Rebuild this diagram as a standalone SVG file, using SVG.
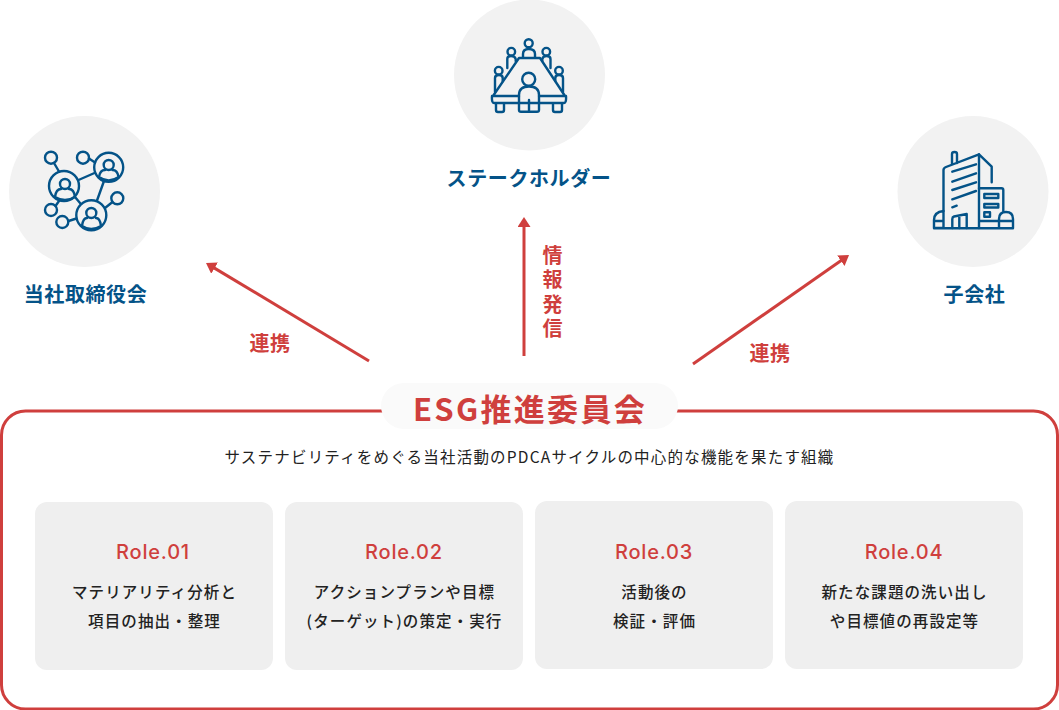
<svg xmlns="http://www.w3.org/2000/svg" width="1059" height="710" viewBox="0 0 1059 710">
<style>
text{font-family:"Noto Sans CJK JP","Noto Sans",sans-serif}
.circ{fill:#f2f2f2}
.ic{fill:none;stroke:#045388;stroke-width:2.4;stroke-linecap:round;stroke-linejoin:round}
.nl{fill:#045388;font-size:20px;font-weight:700;text-anchor:middle;letter-spacing:.6px}
.red{fill:#cf3f3d;font-weight:700}
.ar{stroke:#cf3f3d;stroke-width:3;fill:none}
.card{fill:#efefef}
.role{fill:#cf3f3d;font-family:"Inter","Open Sans",sans-serif;font-size:20px;font-weight:500;text-anchor:middle;letter-spacing:.8px}
.desc{fill:#222;font-size:15.500px;font-weight:500;text-anchor:middle;letter-spacing:1.100px}
</style>
<defs><marker id="ah" markerUnits="userSpaceOnUse" markerWidth="14" markerHeight="14" refX="3" refY="6.500" orient="auto"><path d="M0 0L10 6.500L0 13Z" fill="#cf3f3d"/></marker></defs>
<g id="connectors">
<path class="ar" d="M369 361L212 266.600" marker-end="url(#ah)"/>
<path class="ar" d="M524 356V224" marker-end="url(#ah)"/>
<path class="ar" d="M693 364L843.300 259" marker-end="url(#ah)"/>
</g>
<g id="node-board">
<circle class="circ" cx="84.500" cy="191.500" r="75.500"/>
<g class="ic">
<circle cx="51" cy="157.700" r="6"/><circle cx="83" cy="157.700" r="6"/><circle cx="108.700" cy="167.300" r="14.500"/><circle cx="64" cy="186" r="15"/><circle cx="91.300" cy="215.300" r="15"/><circle cx="117.300" cy="198.300" r="6"/><circle cx="51" cy="210" r="6"/><circle cx="62.300" cy="222" r="6"/>
<path d="M54 163L59 171.500M89 158.500L95 162.500M78.500 180L94.500 173M104 181L97 200.500M75 197L80 203M105 208L112.500 202M68.500 221L76.500 218.500M55.500 206L59 201"/>
<circle cx="108.700" cy="165" r="5"/><path d="M99 177Q100 170 105 170M118.500 177Q117.500 170 112.500 170M99 177Q108.700 184 118.500 177"/>
<circle cx="65" cy="184" r="5"/><path d="M55 197Q56 189 61 189M75 197Q74 189 69 189M55 197Q65 203 75 197"/>
<circle cx="91.300" cy="213" r="5"/><path d="M82 226Q83 218 87 218M101 226Q100 218 96 218M82 226Q91 232 101 226"/>
</g>
<text class="nl" x="85.500" y="302">当社取締役会</text>
</g>
<g id="node-stakeholder">
<circle class="circ" cx="529.500" cy="75" r="75.500"/>
<g class="ic">
<circle cx="528.700" cy="43.300" r="4"/><path d="M523 57V54Q523 49 528.700 49Q535 49 535 54V57"/>
<circle cx="511.300" cy="51.700" r="3.800"/><path d="M507.300 68V59Q507.300 56 511 56Q515 56 515.700 59V61"/>
<circle cx="546.300" cy="51.700" r="3.800"/><path d="M550.500 68V59Q550.500 56 546.500 56Q543 56 542.300 59V61"/>
<circle cx="498.700" cy="70.700" r="3.800"/><path d="M495 91.700V78Q495 75 499 75Q502.700 75 502.700 78V81"/>
<circle cx="559" cy="70.700" r="3.800"/><path d="M563 91.700V78Q563 75 559 75Q555.300 75 555.300 78V81"/>
<path d="M493 96L519 58H540L565 96M492 96H519M539 96H566Q566.500 103 564 103H494Q491.500 103 492 96M496 103V110Q496 112 498 112H502Q504 112 504 110V103M553 103V110Q553 112 555 112H560Q562 112 562 110V103"/>
<circle cx="528.700" cy="79.300" r="6.500"/><path d="M519 110V95Q519 86.500 529 86.500Q539 86.500 539 95V110Q539 111.700 537 111.700H521Q519 111.700 519 110ZM529 100V111"/>
</g>
<text class="nl" x="529" y="186">ステークホルダー</text>
</g>
<g id="node-subsidiary">
<circle class="circ" cx="973" cy="191.500" r="75.500"/>
<g class="ic">
<path d="M943.500 211V170Q943.500 168 946 167L979 154.300L991.700 166.700V182.300M952 164V154Q952 152 954.500 152Q957 152 957 154V163M979 154.300V228"/>
<path d="M952.300 171.700L976 164.300M952.300 181.700L976 173.300M952.300 190L976 182.300M952.300 199.300L976 191M952.300 207.300L956.700 205.700"/>
<path d="M979 188.300H1001.500Q1003.300 188.300 1003.300 190V211M984.300 194H998.300V198H984.300ZM984.300 204H998.300V207.500H984.300ZM984.300 212.300H990V216.700H984.300Z"/>
<path d="M952.300 228V219Q952.300 217 954 216.500L966.700 214V228M959.300 216V228"/>
<path d="M943.500 228V211Q934 212 934 220V228ZM934 221H943.500M934 228.300H1013M999 228V219Q999 212 1006 212Q1013 212 1013 219V228M999 221H1013M980 221H999"/>
</g>
<text class="nl" x="974.500" y="302">子会社</text>
</g>
<g id="labels">
<text class="red" font-size="20" x="270" y="351" text-anchor="middle" letter-spacing=".5">連携</text>
<text class="red" font-size="20" x="770" y="361" text-anchor="middle" letter-spacing=".5">連携</text>
<text class="red" font-size="20" x="552.500" y="245.500" style="writing-mode:vertical-rl" letter-spacing="4.300">情報発信</text>
</g>
<g id="node-esg">
<rect x="1.500" y="411" width="1056" height="298" rx="24" fill="#fff" stroke="#cf3f3d" stroke-width="3"/>
<rect x="381" y="383" width="297" height="46" rx="23" fill="#fafafa"/>
<text class="red" font-size="31" x="530" y="421" text-anchor="middle" letter-spacing="2.300">ESG推進委員会</text>
<text x="529.500" y="463" font-size="15.500" fill="#222" text-anchor="middle" letter-spacing="1.200">サステナビリティをめぐる当社活動のPDCAサイクルの中心的な機能を果たす組織</text>
</g>
<g id="node-role1"><rect class="card" x="35" y="502" width="238" height="168" rx="12"/>
<text class="role" x="153" y="559">Role.01</text><text class="desc" x="154.500" y="598">マテリアリティ分析と</text><text class="desc" x="154.500" y="627">項目の抽出・整理</text></g>
<g id="node-role2"><rect class="card" x="285" y="502" width="238" height="168" rx="12"/>
<text class="role" x="404" y="559">Role.02</text><text class="desc" x="404.500" y="598">アクションプランや目標</text><text class="desc" x="404.500" y="627">(ターゲット)の策定・実行</text></g>
<g id="node-role3"><rect class="card" x="535" y="501" width="238" height="168" rx="12"/>
<text class="role" x="654" y="559">Role.03</text><text class="desc" x="654.500" y="598">活動後の</text><text class="desc" x="654.500" y="627">検証・評価</text></g>
<g id="node-role4"><rect class="card" x="785" y="501" width="238" height="168" rx="12"/>
<text class="role" x="904" y="559">Role.04</text><text class="desc" x="904.500" y="598">新たな課題の洗い出し</text><text class="desc" x="904.500" y="627">や目標値の再設定等</text></g>
</svg>
